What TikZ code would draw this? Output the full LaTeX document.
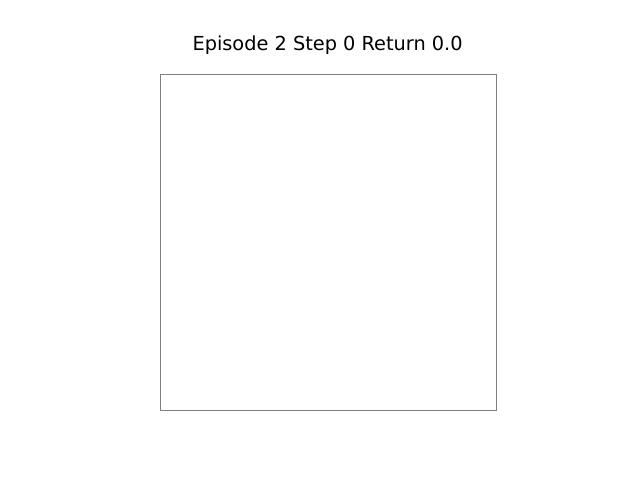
\documentclass[tikz,border=0pt]{standalone}
\usepackage{fontspec}
\setmainfont{DejaVu Sans}
\usepackage{tikz}

\begin{document}
\begin{tikzpicture}

	\useasboundingbox (0,0) rectangle (16,12);

	\coordinate (a) at (4,1.75);
	\coordinate (b) at (12.4,10.15);

	\draw[line width=0.7pt, color=gray] (a) rectangle (b);

	\node[anchor=base, inner sep=0pt, font=\fontsize{13.75}{16}\selectfont] (title) at (8.19,10.725) {Episode 2 Step 0 Return 0.0};

\end{tikzpicture}
\end{document}
